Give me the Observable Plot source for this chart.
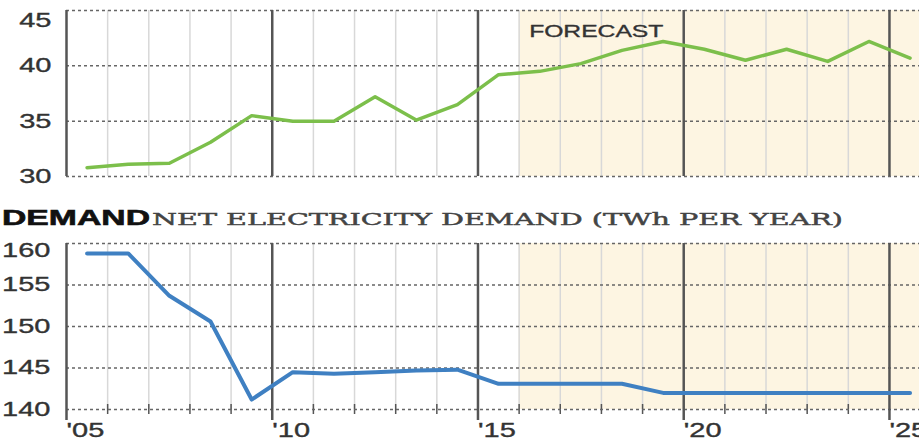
<!DOCTYPE html>
<html>
<head>
<meta charset="utf-8">
<script src="https://cdn.jsdelivr.net/npm/d3@7"></script>
<script src="https://cdn.jsdelivr.net/npm/@observablehq/plot@0.6"></script>
<style>
  html, body { margin: 0; padding: 0; background: #fff; overflow: hidden; }
  #wrap { width: 919px; height: 446px; position: relative; }
  #title { position: relative; height: 43px; width: 919px; }
  #title span { position: absolute; white-space: nowrap; display: inline-block; transform-origin: 0 50%; }
  #t1 { left: 2px; top: 12px; font: 900 22px/22px "Liberation Sans", Arial, sans-serif; color: #111; -webkit-text-stroke: 0.6px #111; }
  #t2 { left: 152px; top: 16px; font: 400 17px/17px "DejaVu Serif", "Liberation Serif", serif; color: #444; -webkit-text-stroke: 0.45px #444; }
</style>
</head>
<body>
<div id="wrap">
  <div id="top"></div>
  <div id="title"><span id="t1">DEMAND</span><span id="t2">NET ELECTRICITY DEMAND (TWh PER YEAR)</span></div>
  <div id="bottom"></div>
</div>
<script>
// ---- data ----
const years = [2005, 2006, 2007, 2008, 2009, 2010, 2011, 2012, 2013, 2014, 2015,
               2016, 2017, 2018, 2019, 2020, 2021, 2022, 2023, 2024, 2025];
const topValues = [30.8, 31.1, 31.2, 33.1, 35.5, 35.0, 35.0, 37.2, 35.1, 36.5, 39.2,
                   39.5, 40.2, 41.4, 42.2, 41.5, 40.5, 41.5, 40.4, 42.2, 40.7];
const demandValues = [158.8, 158.8, 153.7, 150.6, 141.2, 144.5, 144.3, 144.5, 144.7, 144.8, 143.1,
                      143.1, 143.1, 143.1, 142.0, 142.0, 142.0, 142.0, 142.0, 142.0, 142.0];
const majorYears = [2005, 2010, 2015, 2020, 2025];
const xTickLabels = ["'05", "'10", "'15", "'20", "'25"];
const topTicks = [30, 35, 40, 45];
const demandTicks = [140, 145, 150, 155, 160];
const forecastStart = 2016;
const forecastLabel = "FORECAST";
const xDomain = [2005, 2025.73];

const minorYears = years.filter(y => !majorYears.includes(y));
const topData = years.map((year, i) => ({year, value: topValues[i]}));
const demandData = years.map((year, i) => ({year, value: demandValues[i]}));
const forecastBand = [{x1: forecastStart, x2: xDomain[1]}];
const xLabelData = majorYears.map((year, i) => ({year, label: xTickLabels[i]}));

const FONT = '"Liberation Sans", Arial, sans-serif';
const SHADE = "#fdf5e2";
const GRID = "#666";
const MINOR = "#d8d8d8";
const MAJOR = "#555";
const LABEL = "#333";
const txt = {fill: LABEL, stroke: LABEL, strokeWidth: 0.35};

const topPlot = Plot.plot({
  width: 919, height: 195,
  marginTop: 10, marginBottom: 19, marginLeft: 66, marginRight: 0,
  x: {domain: xDomain, axis: null},
  y: {domain: [30, 45], axis: null},
  style: {fontFamily: FONT, background: "transparent"},
  marks: [
    Plot.rect(forecastBand, {x1: "x1", x2: "x2", fill: SHADE}),
    Plot.ruleX(minorYears, {stroke: MINOR, strokeWidth: 1.5}),
    Plot.ruleY(topTicks, {stroke: GRID, strokeWidth: 1.5, strokeDasharray: "3,3"}),
    Plot.ruleX(majorYears, {stroke: MAJOR, strokeWidth: 2.5}),
    Plot.line(topData, {x: d => d.year + 0.5, y: "value", stroke: "#7cbf4b", strokeWidth: 3.5}),
    Plot.text([forecastLabel], {x: forecastStart, y: topTicks[topTicks.length - 1], dx: 10, dy: 21,
      textAnchor: "start", fontSize: 17, ...txt}),
    Plot.text(topTicks.slice(0, -1), {y: d => d, frameAnchor: "left", textAnchor: "end",
      dx: -15, fontSize: 20, ...txt}),
    Plot.text(topTicks.slice(-1), {y: d => d, frameAnchor: "left", textAnchor: "end",
      dx: -15, dy: 10, fontSize: 20, ...txt})
  ]
});

const bottomPlot = Plot.plot({
  width: 919, height: 208,
  marginTop: 5, marginBottom: 37, marginLeft: 66, marginRight: 0,
  x: {domain: xDomain, axis: null},
  y: {domain: [140, 160], axis: null},
  style: {fontFamily: FONT, background: "transparent"},
  marks: [
    Plot.rect(forecastBand, {x1: "x1", x2: "x2", fill: SHADE}),
    Plot.ruleX(minorYears, {stroke: MINOR, strokeWidth: 1.5}),
    Plot.ruleX(minorYears, {stroke: MAJOR, strokeWidth: 1.5, insetTop: 161, insetBottom: -5}),
    Plot.ruleY(demandTicks, {stroke: GRID, strokeWidth: 1.5, strokeDasharray: "3,3"}),
    Plot.ruleX(majorYears, {stroke: MAJOR, strokeWidth: 2.5, insetBottom: -11}),
    Plot.line(demandData, {x: d => d.year + 0.5, y: "value", stroke: "#3f80c2", strokeWidth: 4}),
    Plot.text(demandTicks.slice(0, -1), {y: d => d, frameAnchor: "left", textAnchor: "end",
      dx: -16, fontSize: 20, ...txt}),
    Plot.text(demandTicks.slice(-1), {y: d => d, frameAnchor: "left", textAnchor: "end",
      dx: -16, dy: 7, fontSize: 20, ...txt}),
    Plot.text(xLabelData, {x: "year", frameAnchor: "bottom", text: "label", textAnchor: "start",
      dy: 27, fontSize: 20, ...txt})
  ]
});

document.getElementById("top").appendChild(topPlot);
document.getElementById("bottom").appendChild(bottomPlot);

// the reference artwork is horizontally stretched: widen glyphs to match
function stretch(svg, k) {
  svg.querySelectorAll("text").forEach(t => {
    const w = t.getComputedTextLength();
    if (w > 0) {
      t.setAttribute("textLength", (w * k).toFixed(1));
      t.setAttribute("lengthAdjust", "spacingAndGlyphs");
    }
  });
}
stretch(topPlot, 1.45);
stretch(bottomPlot, 1.45);

function fitSpan(id, target) {
  const el = document.getElementById(id);
  const w = el.getBoundingClientRect().width;
  el.style.transform = `scaleX(${target / w})`;
}
fitSpan("t1", 148);
fitSpan("t2", 691);
</script>
</body>
</html>
